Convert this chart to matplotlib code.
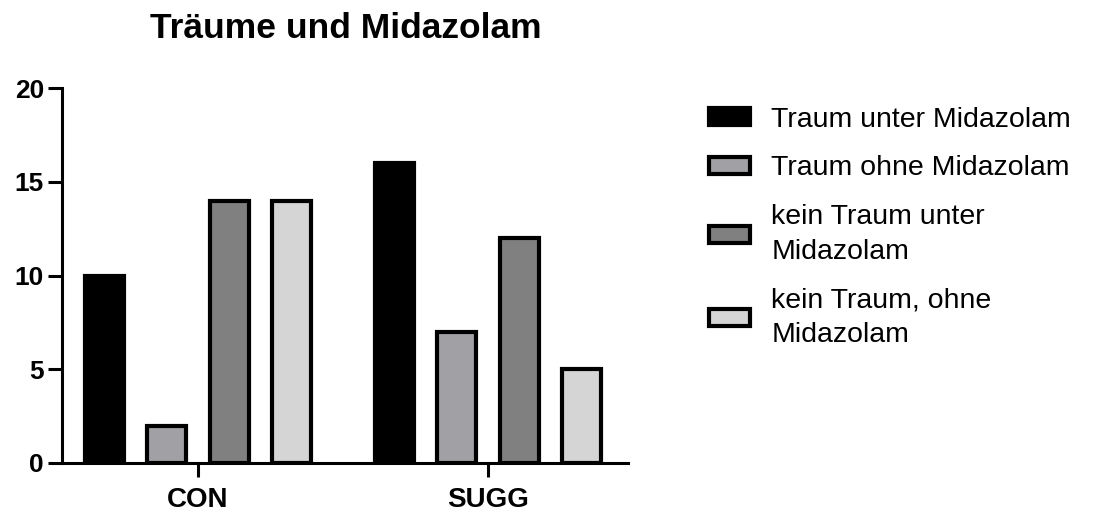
import matplotlib
matplotlib.use("Agg")
import matplotlib.pyplot as plt
import numpy as np

plt.rcParams['font.family'] = ['Liberation Sans', 'DejaVu Sans']

groups = ["CON", "SUGG"]
series = ["Traum unter Midazolam", "Traum ohne Midazolam",
          "kein Traum unter\nMidazolam", "kein Traum, ohne\nMidazolam"]
values = [
    [10, 16],
    [2, 7],
    [14, 12],
    [14, 5],
]
colors = ["#000000", "#a1a1a5", "#808080", "#d5d5d5"]
title = "Träume und Midazolam"

W, H = 1094, 513
fig = plt.figure(figsize=(W / 100, H / 100), dpi=100)
ax = fig.add_axes([62 / W, (H - 463) / H, (628 - 62) / W, (463 - 88) / H])

x = np.arange(len(groups))
offset = 62.5 / 290
width = 0.135
for i, (name, vals, c) in enumerate(zip(series, values, colors)):
    ax.bar(x + (i - 1.5) * offset, vals, width=width, color=c,
           edgecolor="black", linewidth=3.0, label=name, zorder=3)

ax.set_xlim(-0.469, 1.483)
ax.set_ylim(0, 20)
ax.set_yticks([0, 5, 10, 15, 20])
ax.set_xticks(x)
ax.set_xticklabels(groups)
for s in ["top", "right"]:
    ax.spines[s].set_visible(False)
for s in ["left", "bottom"]:
    ax.spines[s].set_linewidth(2.2)
    ax.spines[s].set_capstyle("projecting")
ax.tick_params(axis="both", width=2.2, length=10)
ax.tick_params(axis="y", labelsize=19, pad=3)
ax.tick_params(axis="x", labelsize=20, pad=7)
for lab in ax.get_xticklabels() + ax.get_yticklabels():
    lab.set_fontweight("bold")

fig.text(346 / W, 1 - 29 / H, title, ha="center", va="center",
         fontsize=25.5, fontweight="bold")

leg = fig.legend(loc="upper left", bbox_to_anchor=(703 / W, 1 - 101 / H),
                 frameon=False, fontsize=20.5, handlelength=1.45,
                 handleheight=0.55, handletextpad=0.75, labelspacing=0.8,
                 borderaxespad=0, borderpad=0.2)
for t in leg.get_texts():
    t.set_linespacing(1.42)

fig.savefig("out.png", dpi=100)
